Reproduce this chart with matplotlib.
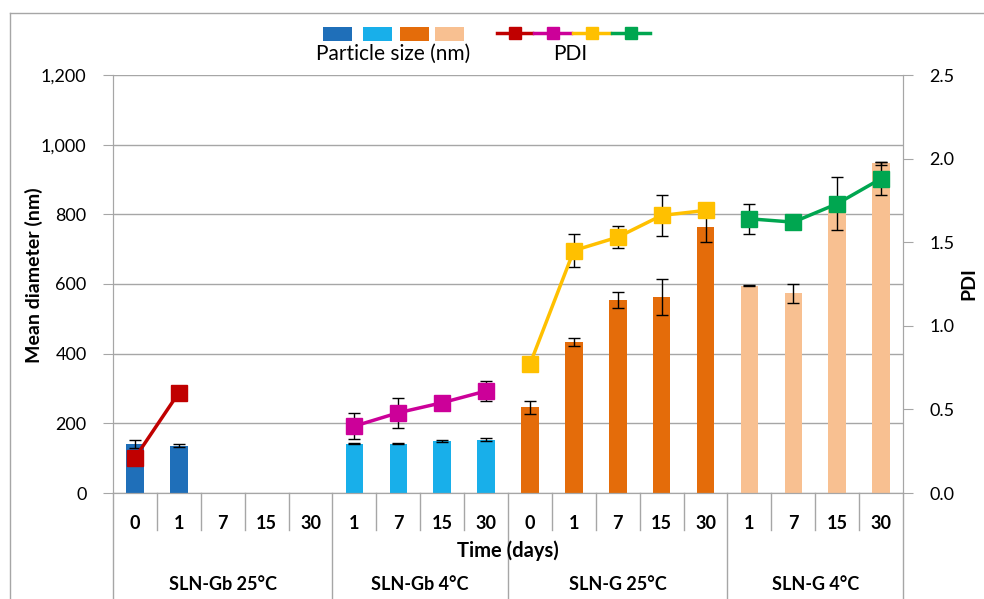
import matplotlib.pyplot as plt
import matplotlib.lines as mlines
import matplotlib.patches as mpatches
import numpy as np

plt.rcParams['font.family'] = ['Lato', 'DejaVu Sans']

# data
groups = ["SLN-Gb 25°C", "SLN-Gb 4°C", "SLN-G 25°C", "SLN-G 4°C"]
days_gb25 = ["0", "1", "7", "15", "30"]
days_gb4 = ["1", "7", "15", "30"]
days_g25 = ["0", "1", "7", "15", "30"]
days_g4 = ["1", "7", "15", "30"]

size_gb25 = [141, 136, np.nan, np.nan, np.nan]
size_gb25_err = [12, 5, 0, 0, 0]
size_gb4 = [142, 142, 149, 153]
size_gb4_err = [2, 2, 4, 4]
size_g25 = [246, 433, 553, 562, 763]
size_g25_err = [18, 12, 23, 52, 41]
size_g4 = [595, 573, 825, 946]
size_g4_err = [2, 27, 0, 5]

pdi_gb25 = [0.21, 0.60, np.nan, np.nan, np.nan]
pdi_gb25_err = [0, 0, 0, 0, 0]
pdi_gb4 = [0.40, 0.48, 0.54, 0.61]
pdi_gb4_err = [0.08, 0.09, 0.02, 0.06]
pdi_g25 = [0.77, 1.45, 1.53, 1.66, 1.69]
pdi_g25_err = [0.03, 0.10, 0.065, 0.12, 0.02]
pdi_g4 = [1.64, 1.62, 1.73, 1.88]
pdi_g4_err = [0.09, 0.01, 0.16, 0.10]

bar_colors = ["#1F6FB9", "#18AFEA", "#E46C0A", "#F8C091"]
line_colors = ["#C00000", "#CC0099", "#FFC000", "#00A650"]
grey = "#A6A6A6"

all_days = [days_gb25, days_gb4, days_g25, days_g4]
all_size = [size_gb25, size_gb4, size_g25, size_g4]
all_size_err = [size_gb25_err, size_gb4_err, size_g25_err, size_g4_err]
all_pdi = [pdi_gb25, pdi_gb4, pdi_g25, pdi_g4]
all_pdi_err = [pdi_gb25_err, pdi_gb4_err, pdi_g25_err, pdi_g4_err]

fig = plt.figure(figsize=(9.84, 5.99), dpi=100)
ax = fig.add_axes([113 / 984, 106 / 599, 790 / 984, 418 / 599])
ax2 = ax.twinx()

n_total = sum(len(d) for d in all_days)
start = 0
bounds = [-0.5]
for g in range(len(groups)):
    n = len(all_days[g])
    x = np.arange(start, start + n)
    sizes = np.array(all_size[g], dtype=float)
    serr = np.array(all_size_err[g], dtype=float)
    ok = ~np.isnan(sizes)
    ax.bar(x[ok], sizes[ok], width=0.4, color=bar_colors[g], zorder=2)
    ax.errorbar(x[ok], sizes[ok], yerr=serr[ok], fmt="none", ecolor="black",
                elinewidth=1, capsize=4, capthick=1, zorder=3)
    pdi = np.array(all_pdi[g], dtype=float)
    perr = np.array(all_pdi_err[g], dtype=float)
    ok = ~np.isnan(pdi)
    ax2.errorbar(x[ok], pdi[ok], yerr=perr[ok], fmt="none", ecolor="black",
                 elinewidth=1, capsize=4, capthick=1, zorder=3)
    ax2.plot(x[ok], pdi[ok], color=line_colors[g], lw=2.5, marker="s",
             markersize=11, zorder=4)
    # day labels under each bar
    for xi, d in zip(x, all_days[g]):
        ax.text(xi, -0.072, d, transform=ax.get_xaxis_transform(), ha="center",
                va="center", fontsize=13, fontweight="bold")
    ax.text(start + (n - 1) / 2, -0.22, groups[g], transform=ax.get_xaxis_transform(),
            ha="center", va="center", fontsize=13, fontweight="bold")
    start += n
    bounds.append(start - 0.5)

# category table lines below the axis
for b in range(n_total + 1):
    xb = b - 0.5
    y_end = -0.26 if xb in bounds else -0.088
    ax.plot([xb, xb], [0, y_end], transform=ax.get_xaxis_transform(), color=grey,
            lw=1, clip_on=False)

ax.text(0.5, -0.139, "Time (days)", transform=ax.transAxes, ha="center", va="center",
        fontsize=14.5, fontweight="bold")

ax.set_xlim(-0.5, n_total - 0.5)
ax.set_ylim(0, 1200)
ax.set_yticks(range(0, 1201, 200))
ax.set_yticklabels(["{:,}".format(v) for v in range(0, 1201, 200)], fontsize=13)
ax.set_xticks([])
ax.yaxis.grid(True, color=grey, lw=1, zorder=0)
ax.set_axisbelow(True)
ax.tick_params(axis="y", direction="out", length=7, color=grey, pad=12)
ax.set_ylabel("Mean diameter (nm)", fontsize=14, fontweight="bold")
ax.yaxis.set_label_coords(-0.088, 0.52)

ax2.set_ylim(0, 2.5)
ax2.set_yticks(np.arange(0, 2.51, 0.5))
ax2.set_yticklabels(["{:.1f}".format(v) for v in np.arange(0, 2.51, 0.5)], fontsize=13)
ax2.tick_params(axis="y", direction="out", length=7, color=grey, pad=12)
ax2.set_ylabel("PDI", fontsize=14, fontweight="bold")
ax2.yaxis.set_label_coords(1.072, 0.5)

for a in (ax, ax2):
    a.spines["top"].set_visible(False)
    for s in ("left", "right", "bottom"):
        a.spines[s].set_color(grey)

# outer chart border
fig.add_artist(mlines.Line2D([10 / 984, 1], [1 - 13 / 599, 1 - 13 / 599], color=grey, lw=1))
fig.add_artist(mlines.Line2D([10 / 984, 10 / 984], [0, 1 - 13 / 599], color=grey, lw=1))

# legend drawn by hand like the original
rect_x = [323, 363, 400, 435]
for xr, c in zip(rect_x, bar_colors):
    fig.add_artist(mpatches.Rectangle((xr / 984, 1 - 41 / 599), 29 / 984, 14 / 599,
                                      facecolor=c, edgecolor="none"))
fig.text(393 / 984, 1 - 54 / 599, "Particle size (nm)", ha="center", va="center", fontsize=15)
seg_x = [(497, 532), (534, 571), (573, 610), (612, 650)]
for (x0, x1), c in zip(seg_x, line_colors):
    fig.add_artist(mlines.Line2D([x0 / 984, x1 / 984], [1 - 33 / 599, 1 - 33 / 599],
                                 color=c, lw=2.5))
    fig.add_artist(mlines.Line2D([(x0 + x1) / 2 / 984], [1 - 33 / 599], color=c,
                                 marker="s", markersize=8, lw=0))
fig.text(570 / 984, 1 - 54 / 599, "PDI", ha="center", va="center", fontsize=15)

plt.savefig("out.png", dpi=100)
